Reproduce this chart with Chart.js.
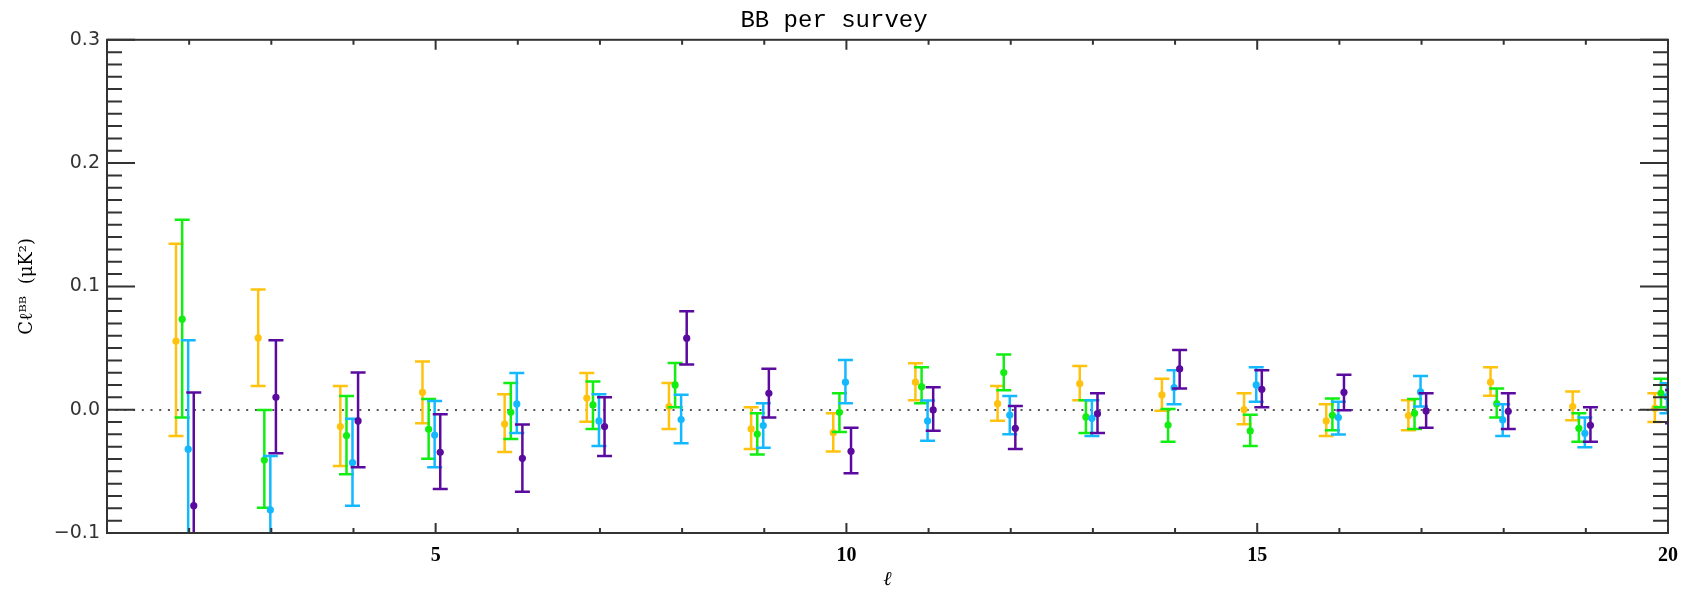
<!DOCTYPE html>
<html>
<head>
<meta charset="utf-8">
<script src="https://cdn.jsdelivr.net/npm/chart.js@4.4.1/dist/chart.umd.min.js"></script>
<style>
  html, body { margin: 0; padding: 0; background: #fff; }
  #wrap { width: 1691px; height: 596px; position: relative; }
</style>
</head>
<body>
<div id="wrap"><canvas id="chart"></canvas></div>
<script>
// multipoles
const ELL = [2, 3, 4, 5, 6, 7, 8, 9, 10, 11, 12, 13, 14, 15, 16, 17, 18, 19, 20];

// survey 1 (yellow)
const S1_VAL = [0.0556, 0.0582, -0.0137, 0.0141, -0.0116, 0.0095, 0.0025, -0.0156, -0.0186, 0.0223, 0.0049, 0.0211, 0.0120, 0.0001, -0.0091, -0.0048, 0.0223, 0.0025, 0.0012];
const S1_HI  = [0.1345, 0.0974, 0.0193, 0.0390, 0.0125, 0.0298, 0.0217, 0.0020, -0.0029, 0.0376, 0.0193, 0.0355, 0.0252, 0.0133, 0.0044, 0.0077, 0.0344, 0.0147, 0.0133];
const S1_LO  = [-0.0213, 0.0193, -0.0456, -0.0110, -0.0343, -0.0097, -0.0156, -0.0318, -0.0340, 0.0077, -0.0089, 0.0077, -0.0008, -0.0118, -0.0213, -0.0167, 0.0114, -0.0086, -0.0099];

// survey 2 (green)
const S2_VAL = [0.0734, -0.0408, -0.0210, -0.0159, -0.0021, 0.0039, 0.0201, -0.0197, -0.0021, 0.0187, 0.0301, -0.0059, -0.0124, -0.0172, -0.0045, -0.0029, 0.0049, -0.0151, 0.0133];
const S2_HI  = [0.1540, -0.0002, 0.0112, 0.0087, 0.0217, 0.0228, 0.0379, -0.0029, 0.0133, 0.0344, 0.0447, 0.0077, 0.0006, -0.0040, 0.0090, 0.0087, 0.0171, -0.0029, 0.0252];
const S2_LO  = [-0.0064, -0.0795, -0.0524, -0.0397, -0.0237, -0.0156, 0.0020, -0.0364, -0.0180, 0.0052, 0.0158, -0.0189, -0.0259, -0.0294, -0.0167, -0.0156, -0.0064, -0.0259, 0.0020];

// survey 3 (cyan)
const S3_VAL = [-0.0320, -0.0813, -0.0430, -0.0205, 0.0047, -0.0091, -0.0080, -0.0129, 0.0223, -0.0091, -0.0043, -0.0070, 0.0179, 0.0201, -0.0064, 0.0144, -0.0083, -0.0192, 0.0106];
const S3_HI  = [0.0563, -0.0375, -0.0073, 0.0071, 0.0298, 0.0125, 0.0122, 0.0052, 0.0404, 0.0074, 0.0112, 0.0077, 0.0320, 0.0344, 0.0065, 0.0274, 0.0044, -0.0064, 0.0214];
const S3_LO  = [-0.1203, -0.1251, -0.0780, -0.0467, -0.0189, -0.0294, -0.0272, -0.0308, 0.0052, -0.0251, -0.0199, -0.0213, 0.0044, 0.0065, -0.0202, 0.0025, -0.0213, -0.0305, -0.0029];

// survey 4 (purple)
const S4_VAL = [-0.0778, 0.0101, -0.0091, -0.0345, -0.0394, -0.0137, 0.0580, 0.0133, -0.0337, -0.0002, -0.0151, -0.0032, 0.0331, 0.0166, 0.0141, -0.0010, -0.0013, -0.0127, 0.0025];
const S4_HI  = [0.0139, 0.0563, 0.0301, -0.0037, -0.0121, 0.0101, 0.0799, 0.0333, -0.0146, 0.0182, 0.0030, 0.0133, 0.0485, 0.0320, 0.0284, 0.0133, 0.0133, 0.0020, 0.0160];
const S4_LO  = [-0.1695, -0.0354, -0.0467, -0.0643, -0.0665, -0.0375, 0.0366, -0.0064, -0.0516, -0.0170, -0.0318, -0.0189, 0.0171, 0.0020, -0.0005, -0.0146, -0.0156, -0.0259, -0.0110];

// axis ticks
const X_TICKS = [5, 10, 15, 20];
const Y_TICKS = [-0.1, 0.0, 0.1, 0.2, 0.3];
const Y_TICK_LABELS = ['\u22120.1', '0.0', '0.1', '0.2', '0.3'];

const CAP = 7.5;

function makeSet(vals, lo, hi, color, shift, order) {
    return {
        data: ELL.map((l, i) => ({ x: l + shift, y: vals[i] })),
        errLo: lo,
        errHi: hi,
        backgroundColor: color,
        borderColor: color,
        pointRadius: 3.6,
        pointBorderWidth: 0,
        pointHoverRadius: 3.6,
        showLine: false,
        clip: 0,
        order: order
    };
}

// vertical error bars with caps, drawn under each dataset's points
const errorBars = {
    id: 'errorBars',
    beforeDatasetDraw(chart, args) {
        const ds = chart.data.datasets[args.index];
        if (!ds.errLo) return;
        const { ctx, chartArea: a } = chart;
        const yScale = chart.scales.y;
        ctx.save();
        ctx.beginPath();
        ctx.rect(a.left, a.top, a.right - a.left, a.bottom - a.top);
        ctx.clip();
        ctx.strokeStyle = ds.borderColor;
        ctx.lineWidth = 2.5;
        args.meta.data.forEach(function (pt, i) {
            const yHi = yScale.getPixelForValue(ds.errHi[i]);
            const yLo = yScale.getPixelForValue(ds.errLo[i]);
            ctx.beginPath();
            ctx.moveTo(pt.x, yHi); ctx.lineTo(pt.x, yLo);
            ctx.moveTo(pt.x - CAP, yHi); ctx.lineTo(pt.x + CAP, yHi);
            ctx.moveTo(pt.x - CAP, yLo); ctx.lineTo(pt.x + CAP, yLo);
            ctx.stroke();
        });
        ctx.restore();
    }
};

// box frame with inward ticks on all four sides
const frame = {
    id: 'frame',
    afterDraw(chart) {
        const { ctx, chartArea: { left, right, top, bottom }, scales: { x, y } } = chart;
        ctx.save();
        ctx.strokeStyle = '#333';
        ctx.lineWidth = 2;
        ctx.beginPath();
        for (let v = Math.ceil(x.min); v <= x.max; v++) {
            const px = x.getPixelForValue(v);
            const len = v % 5 === 0 ? 10 : 5;
            ctx.moveTo(px, bottom); ctx.lineTo(px, bottom - len);
            ctx.moveTo(px, top); ctx.lineTo(px, top + len);
        }
        for (let i = Math.round(y.min * 100); i <= Math.round(y.max * 100); i++) {
            const py = y.getPixelForValue(i / 100);
            const len = i % 10 === 0 ? 28 : 15;
            ctx.moveTo(left, py); ctx.lineTo(left + len, py);
            ctx.moveTo(right, py); ctx.lineTo(right - len, py);
        }
        ctx.stroke();
        ctx.strokeRect(left, top, right - left, bottom - top);
        ctx.restore();
    }
};

new Chart(document.getElementById('chart'), {
    type: 'scatter',
    data: {
        datasets: [
            makeSet(S1_VAL, S1_LO, S1_HI, '#FFC20E', -0.16, 4),
            makeSet(S2_VAL, S2_LO, S2_HI, '#12EE12', -0.085, 3),
            makeSet(S3_VAL, S3_LO, S3_HI, '#14B8FF', -0.012, 2),
            makeSet(S4_VAL, S4_LO, S4_HI, '#5B0A9F', 0.056, 1)
        ]
    },
    options: {
        responsive: true,
        maintainAspectRatio: false,
        animation: false,
        layout: { padding: { left: 0, right: 23, top: 0, bottom: 0 } },
        plugins: {
            legend: { display: false },
            tooltip: { enabled: false },
            title: {
                display: true,
                text: 'BB per survey',
                color: '#000',
                font: { family: 'Liberation Mono', size: 24, weight: 'normal', lineHeight: 1.2 },
                padding: { top: 6, bottom: 5 }
            }
        },
        scales: {
            x: {
                type: 'linear',
                min: 1,
                max: 20,
                afterBuildTicks: s => { s.ticks = X_TICKS.map(v => ({ value: v })); },
                afterFit: s => { s.height = 63; },
                grid: { display: false, drawTicks: false },
                border: { display: false },
                ticks: {
                    padding: 11,
                    color: '#000',
                    font: { family: 'Liberation Serif', size: 20, weight: 'bold' },
                    maxRotation: 0
                },
                title: {
                    display: true,
                    text: '\u2113',
                    color: '#000',
                    font: { family: 'DejaVu Serif', size: 20, style: 'italic' },
                    padding: { top: 0, bottom: 4 }
                }
            },
            y: {
                min: -0.1,
                max: 0.3,
                afterBuildTicks: s => { s.ticks = Y_TICKS.map(v => ({ value: v })); },
                afterFit: s => { s.width = 107; },
                grid: {
                    drawTicks: false,
                    lineWidth: 2,
                    color: c => (c.tick && c.tick.value === 0 ? '#555' : 'rgba(0,0,0,0)')
                },
                border: { display: false, dash: [2, 6.7] },
                ticks: {
                    padding: 7,
                    color: '#333',
                    font: { family: 'DejaVu Sans', size: 19 },
                    callback: v => Y_TICK_LABELS[Y_TICKS.indexOf(v)]
                },
                title: {
                    display: true,
                    text: 'C\u2113\u1D2E\u1D2E  (\u03BCK\u00B2)',
                    color: '#000',
                    font: { family: 'DejaVu Serif', size: 18 },
                    padding: { top: 17, bottom: 0 }
                }
            }
        }
    },
    plugins: [errorBars, frame]
});
</script>
</body>
</html>
